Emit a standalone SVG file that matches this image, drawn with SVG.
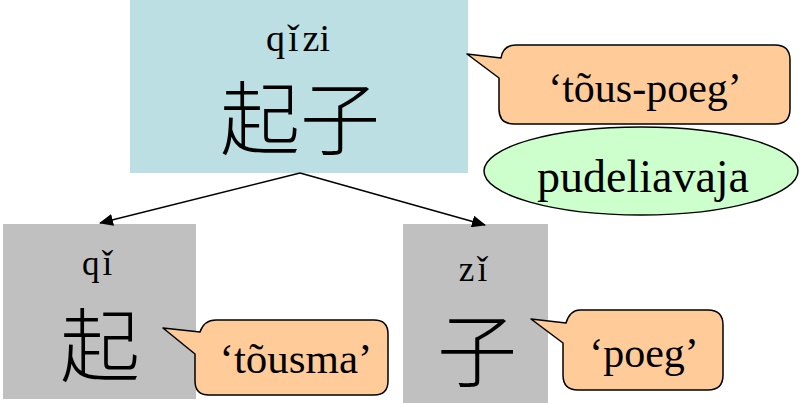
<svg xmlns="http://www.w3.org/2000/svg" width="800" height="403" viewBox="0 0 800 403">
  <defs>
    <marker id="arrow" viewBox="0 0 14 12" refX="13" refY="6" markerWidth="14" markerHeight="12" markerUnits="userSpaceOnUse" orient="auto">
      <path d="M0,0 L14,6 L0,12 Z" fill="#000"/>
    </marker>
  </defs>
  <style>
    .callout { fill: #FFCC99; stroke: #000; stroke-width: 1.5; stroke-linejoin: round; }
    .edge { stroke: #000; stroke-width: 1.5; fill: none; marker-end: url(#arrow); }
  </style>

  <!-- compound word -->
  <g id="compound">
    <rect x="130" y="0" width="338" height="173" fill="#BBDFE3"/>
    <text x="298" y="51" font-family="Liberation Serif, DejaVu Serif, serif" font-size="38" text-anchor="middle" fill="#000">q<tspan dx="3">ǐ</tspan><tspan dx="4">zi</tspan></text>
    <text x="300" y="148" font-family="Liberation Serif, Noto Sans CJK SC, serif" font-size="80" font-weight="300" text-anchor="middle" fill="#000">起子</text>
  </g>

  <!-- first morpheme -->
  <g id="morpheme-qi">
    <rect x="3" y="224" width="193" height="175" fill="#C0C0C0"/>
    <text x="97" y="275" font-family="Liberation Serif, DejaVu Serif, serif" font-size="35" text-anchor="middle" fill="#000">q<tspan dx="3">ǐ</tspan></text>
    <text x="100" y="375" font-family="Liberation Serif, Noto Sans CJK SC, serif" font-size="80" font-weight="300" text-anchor="middle" fill="#000">起</text>
  </g>

  <!-- second morpheme -->
  <g id="morpheme-zi">
    <rect x="403" y="224" width="145" height="179" fill="#C0C0C0"/>
    <text x="473" y="281" font-family="Liberation Serif, DejaVu Serif, serif" font-size="35" text-anchor="middle" fill="#000">z<tspan dx="3">ǐ</tspan></text>
    <text x="477" y="380" font-family="Liberation Serif, Noto Sans CJK SC, serif" font-size="80" font-weight="300" text-anchor="middle" fill="#000">子</text>
  </g>

  <!-- glosses -->
  <g id="gloss-compound">
    <path class="callout" d="M467,54 L501,58 Q503,45 516,45 L775,45 Q790,45 790,60 L790,109 Q790,124 775,124 L514,124 Q499,124 499,109 L499,78 Z"/>
    <text x="645" y="102" font-family="Liberation Serif, serif" font-size="42" text-anchor="middle" fill="#000">‘tõus-poeg’</text>
  </g>

  <g id="gloss-qi">
    <path class="callout" d="M163,328 L200,332 Q204,320 216,320 L374,320 Q388,320 388,334 L388,381 Q388,395 374,395 L209,395 Q195,395 195,381 L195,354 Z"/>
    <text x="296" y="373" font-family="Liberation Serif, serif" font-size="43" text-anchor="middle" fill="#000">‘tõusma’</text>
  </g>

  <g id="gloss-zi">
    <path class="callout" d="M531,319 L566,323 Q570,310 580,310 L708,310 Q723,310 723,325 L723,375 Q723,390 708,390 L578,390 Q563,390 563,375 L563,343 Z"/>
    <text x="644" y="367" font-family="Liberation Serif, serif" font-size="42" text-anchor="middle" fill="#000">‘poeg’</text>
  </g>

  <!-- meaning label -->
  <g id="meaning">
    <ellipse cx="641" cy="171" rx="157" ry="44" fill="#CCFFCC" stroke="#000" stroke-width="1.5"/>
    <text x="643" y="192" font-family="Liberation Serif, serif" font-size="46" text-anchor="middle" fill="#000">pudeliavaja</text>
  </g>

  <!-- connectors -->
  <g id="connectors">
    <line class="edge" x1="300" y1="173" x2="100" y2="223"/>
    <line class="edge" x1="300" y1="173" x2="485" y2="225"/>
  </g>
</svg>
